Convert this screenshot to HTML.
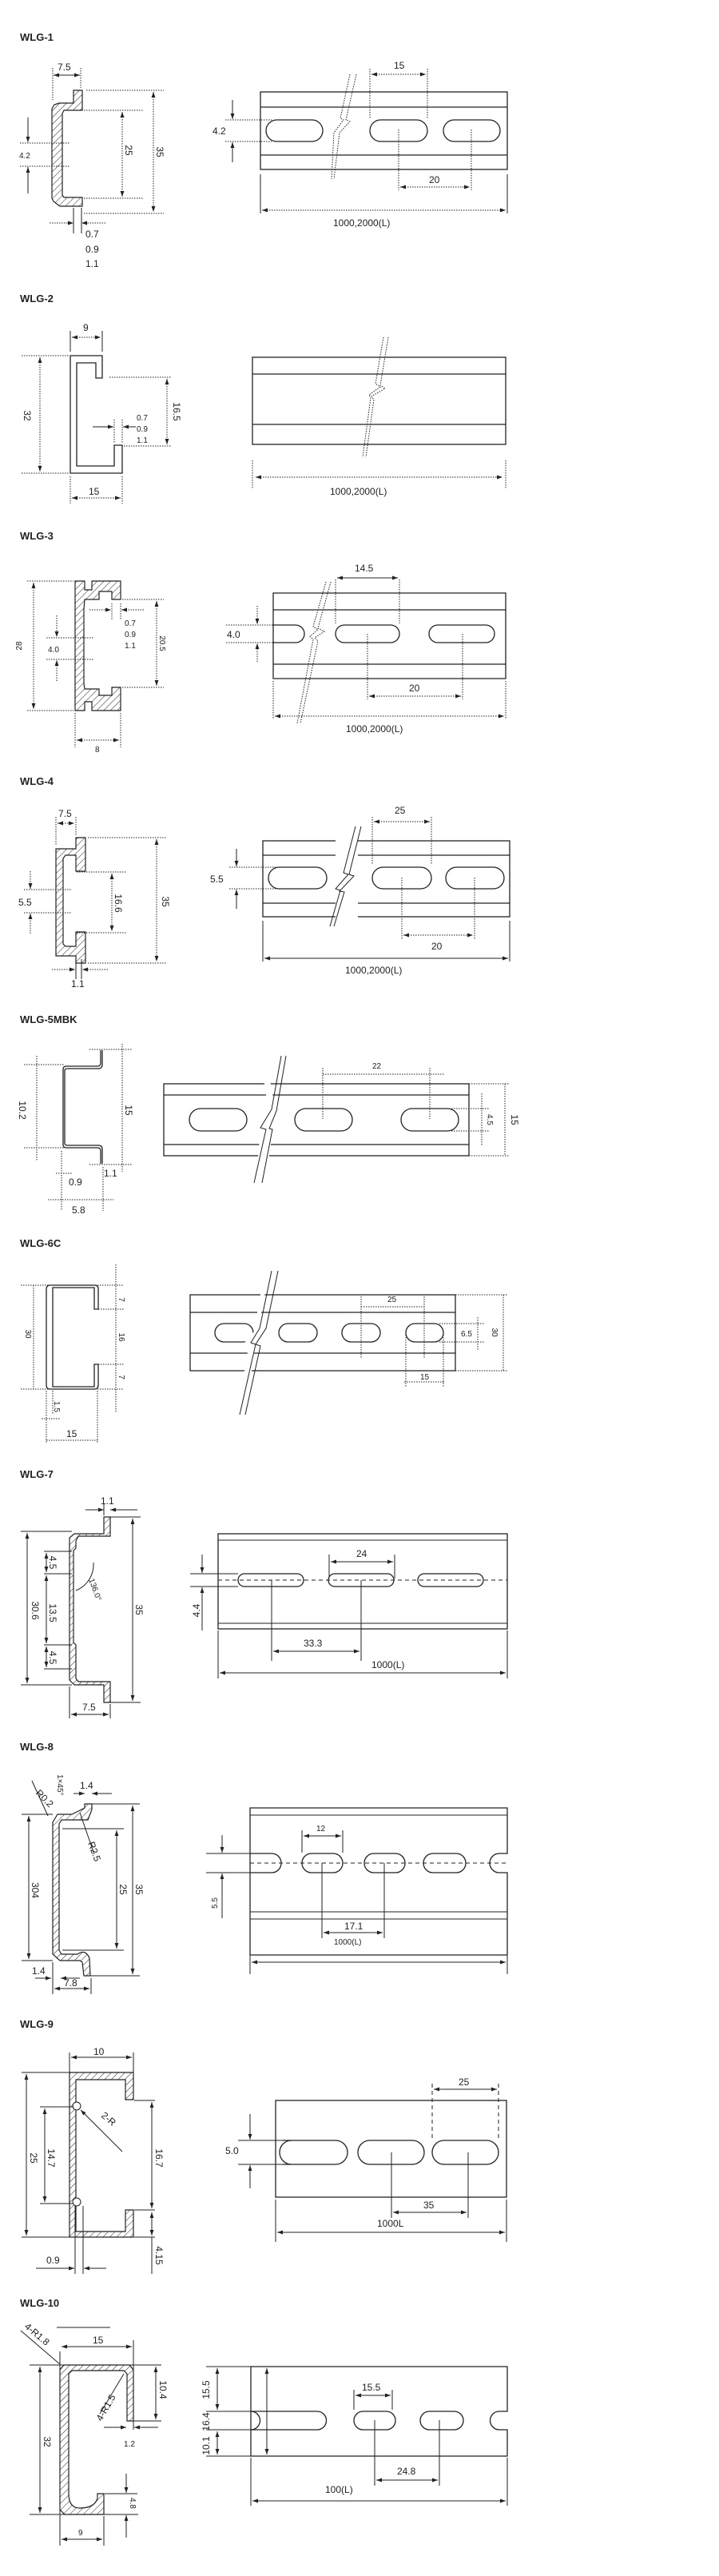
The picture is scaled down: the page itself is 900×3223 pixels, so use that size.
<!DOCTYPE html>
<html><head><meta charset="utf-8"><style>
html,body{margin:0;padding:0;background:#fff}
svg{display:block}
text{font-family:"Liberation Sans",sans-serif;fill:#222}
.h{font-weight:bold;font-size:13px}
.t{font-size:12px}
.s{font-size:10px}
.o{fill:none;stroke:#222;stroke-width:1.3}
.l{fill:none;stroke:#222;stroke-width:1}
.d{fill:none;stroke:#222;stroke-width:1;stroke-dasharray:1.5 1.5}
.c{fill:none;stroke:#222;stroke-width:1;stroke-dasharray:5 4}
.hat{fill:url(#hp);stroke:#222;stroke-width:1.2}
</style></head><body>
<svg width="900" height="3223" viewBox="0 0 900 3223" xmlns="http://www.w3.org/2000/svg">
<defs>
<marker id="a" viewBox="0 0 10 10" refX="10" refY="5" markerWidth="7" markerHeight="7" orient="auto-start-reverse"><path d="M0,1.5 L10,5 L0,8.5 z" fill="#222"/></marker>
<pattern id="hp" width="6" height="6" patternUnits="userSpaceOnUse" patternTransform="rotate(45)"><rect width="6" height="6" fill="#fff"/><line x1="0" y1="0" x2="0" y2="6" stroke="#222" stroke-width="1"/></pattern>
</defs>

<!-- ============ WLG-1 ============ -->
<text class="h" x="25" y="51">WLG-1</text>
<path class="hat" d="M92,113 L103,113 L103,138 L80,138 L78,142 L78,244 L80,247 L103,247 L103,258 L75,258 L67,252 L65,248 L65,136 L68,131 L74,129 L92,129 Z"/>
<line class="d" x1="66" y1="85" x2="66" y2="125"/><line class="d" x1="101" y1="85" x2="101" y2="110"/>
<line class="l" x1="67" y1="94" x2="100" y2="94" marker-start="url(#a)" marker-end="url(#a)"/>
<text class="t" x="72" y="88">7.5</text>
<line class="d" x1="108" y1="113" x2="205" y2="113"/><line class="d" x1="105" y1="138" x2="180" y2="138"/>
<line class="d" x1="105" y1="248" x2="180" y2="248"/><line class="d" x1="105" y1="267" x2="205" y2="267"/>
<line class="d" x1="153" y1="140" x2="153" y2="246" marker-start="url(#a)" marker-end="url(#a)"/>
<line class="d" x1="192" y1="115" x2="192" y2="265" marker-start="url(#a)" marker-end="url(#a)"/>
<text class="t" transform="translate(157,188) rotate(90)" text-anchor="middle">25</text>
<text class="t" transform="translate(196,190) rotate(90)" text-anchor="middle">35</text>
<line class="d" x1="25" y1="179" x2="88" y2="179"/><line class="d" x1="25" y1="208" x2="88" y2="208"/>
<line class="l" x1="35" y1="147" x2="35" y2="178" marker-end="url(#a)"/><line class="l" x1="35" y1="242" x2="35" y2="209" marker-end="url(#a)"/>
<text class="s" x="24" y="198">4.2</text>
<line class="l" x1="92" y1="260" x2="92" y2="292"/><line class="l" x1="102" y1="260" x2="102" y2="292"/>
<line class="d" x1="62" y1="279" x2="92" y2="279" marker-end="url(#a)"/><line class="d" x1="132" y1="279" x2="102" y2="279" marker-end="url(#a)"/>
<text class="t" x="107" y="297">0.7</text><text class="t" x="107" y="316">0.9</text><text class="t" x="107" y="334">1.1</text>
<rect class="o" x="326" y="115" width="309" height="97"/>
<line class="o" x1="326" y1="134" x2="635" y2="134"/><line class="o" x1="326" y1="194" x2="635" y2="194"/>
<rect class="o" x="333" y="150" width="71" height="27" rx="13.5"/>
<rect class="o" x="463" y="150" width="72" height="27" rx="13.5"/>
<rect class="o" x="555" y="150" width="71" height="27" rx="13.5"/>
<path class="d" d="M446,93 L433,150 L438,152 L425,166 L418,224"/><path class="d" d="M438,93 L426,148 L430,150 L418,166 L415,224"/>
<line class="d" x1="463" y1="86" x2="463" y2="148"/><line class="d" x1="535" y1="86" x2="535" y2="148"/>
<line class="d" x1="465" y1="93" x2="533" y2="93" marker-start="url(#a)" marker-end="url(#a)"/>
<text class="t" x="493" y="86">15</text>
<line class="d" x1="499" y1="162" x2="499" y2="238"/><line class="d" x1="590" y1="162" x2="590" y2="238"/>
<line class="d" x1="501" y1="234" x2="588" y2="234" marker-start="url(#a)" marker-end="url(#a)"/>
<text class="t" x="537" y="229">20</text>
<line class="l" x1="326" y1="218" x2="326" y2="267"/><line class="l" x1="635" y1="218" x2="635" y2="267"/>
<line class="d" x1="328" y1="263" x2="633" y2="263" marker-start="url(#a)" marker-end="url(#a)"/>
<text class="t" x="417" y="283">1000,2000(L)</text>
<line class="d" x1="282" y1="150" x2="340" y2="150"/><line class="d" x1="282" y1="177" x2="340" y2="177"/>
<line class="l" x1="291" y1="125" x2="291" y2="149" marker-end="url(#a)"/><line class="l" x1="291" y1="203" x2="291" y2="178" marker-end="url(#a)"/>
<text class="t" x="266" y="168">4.2</text>

<!-- ============ WLG-2 ============ -->
<text class="h" x="25" y="378">WLG-2</text>
<path class="o" d="M88,445 L128,445 L128,473 L120,473 L120,454 L96,454 L96,583 L143,583 L143,557 L153,557 L153,592 L88,592 Z"/>
<line class="l" x1="88" y1="414" x2="88" y2="440"/><line class="l" x1="128" y1="414" x2="128" y2="440"/>
<line class="d" x1="90" y1="422" x2="126" y2="422" marker-start="url(#a)" marker-end="url(#a)"/>
<text class="t" x="104" y="414">9</text>
<line class="d" x1="27" y1="445" x2="86" y2="445"/><line class="d" x1="27" y1="592" x2="86" y2="592"/>
<line class="d" x1="50" y1="447" x2="50" y2="590" marker-start="url(#a)" marker-end="url(#a)"/>
<text class="t" transform="translate(30,520) rotate(90)" text-anchor="middle">32</text>
<line class="d" x1="137" y1="472" x2="215" y2="472"/><line class="d" x1="155" y1="558" x2="215" y2="558"/>
<line class="d" x1="209" y1="474" x2="209" y2="556" marker-start="url(#a)" marker-end="url(#a)"/>
<text class="t" transform="translate(217,515) rotate(90)" text-anchor="middle">16.5</text>
<line class="d" x1="143" y1="525" x2="143" y2="555"/><line class="d" x1="153" y1="525" x2="153" y2="555"/>
<line class="l" x1="116" y1="534" x2="142" y2="534" marker-end="url(#a)"/><line class="l" x1="170" y1="534" x2="154" y2="534" marker-end="url(#a)"/>
<text class="s" x="171" y="526">0.7</text><text class="s" x="171" y="540">0.9</text><text class="s" x="171" y="554">1.1</text>
<line class="d" x1="88" y1="596" x2="88" y2="630"/><line class="d" x1="153" y1="596" x2="153" y2="630"/>
<line class="d" x1="90" y1="623" x2="151" y2="623" marker-start="url(#a)" marker-end="url(#a)"/>
<text class="t" x="111" y="619">15</text>
<rect class="o" x="316" y="447" width="317" height="109"/>
<line class="o" x1="316" y1="468" x2="633" y2="468"/><line class="o" x1="316" y1="531" x2="633" y2="531"/>
<path class="d" d="M486,422 L476,482 L482,486 L465,496 L468,500 L458,572"/><path class="d" d="M480,422 L470,480 L476,484 L462,494 L464,498 L454,572"/>
<line class="d" x1="316" y1="576" x2="316" y2="612"/><line class="d" x1="633" y1="576" x2="633" y2="612"/>
<line class="d" x1="320" y1="597" x2="629" y2="597" marker-start="url(#a)" marker-end="url(#a)"/>
<text class="t" x="413" y="619">1000,2000(L)</text>

<!-- ============ WLG-3 ============ -->
<text class="h" x="25" y="675">WLG-3</text>
<path class="hat" d="M94,727 L106,727 L106,738 L115,738 L115,727 L151,727 L151,750 L140,750 L140,740 L124,740 L124,750 L106,750 L105,762 L105,855 L106,862 L124,862 L124,870 L140,870 L140,860 L151,860 L151,889 L115,889 L115,878 L106,878 L106,889 L94,889 Z"/>
<line class="d" x1="34" y1="727" x2="92" y2="727"/><line class="d" x1="34" y1="889" x2="92" y2="889"/>
<line class="d" x1="42" y1="729" x2="42" y2="887" marker-start="url(#a)" marker-end="url(#a)"/>
<text class="s" transform="translate(27,808) rotate(-90)" text-anchor="middle">28</text>
<line class="d" x1="153" y1="750" x2="205" y2="750"/><line class="d" x1="153" y1="860" x2="205" y2="860"/>
<line class="d" x1="196" y1="752" x2="196" y2="858" marker-start="url(#a)" marker-end="url(#a)"/>
<text class="s" transform="translate(200,805) rotate(90)" text-anchor="middle">20.5</text>
<line class="d" x1="58" y1="798" x2="118" y2="798"/><line class="d" x1="58" y1="825" x2="118" y2="825"/>
<line class="d" x1="71" y1="770" x2="71" y2="797" marker-end="url(#a)"/><line class="d" x1="71" y1="852" x2="71" y2="826" marker-end="url(#a)"/>
<text class="s" x="60" y="816">4.0</text>
<line class="d" x1="140" y1="755" x2="140" y2="775"/><line class="d" x1="151" y1="755" x2="151" y2="775"/>
<line class="d" x1="112" y1="763" x2="139" y2="763" marker-end="url(#a)"/><line class="d" x1="180" y1="763" x2="152" y2="763" marker-end="url(#a)"/>
<text class="s" x="156" y="783">0.7</text><text class="s" x="156" y="797">0.9</text><text class="s" x="156" y="811">1.1</text>
<line class="d" x1="94" y1="892" x2="94" y2="935"/><line class="d" x1="151" y1="892" x2="151" y2="935"/>
<line class="d" x1="96" y1="926" x2="149" y2="926" marker-start="url(#a)" marker-end="url(#a)"/>
<text class="s" x="119" y="941">8</text>
<path class="o" d="M342,742 L633,742 L633,849 L342,849 Z"/>
<line class="o" x1="342" y1="763" x2="633" y2="763"/><line class="o" x1="342" y1="831" x2="633" y2="831"/>
<path class="o" d="M342,782 L370,782 A11,11 0 0 1 370,804 L342,804"/>
<rect class="o" x="420" y="782" width="80" height="22" rx="11"/>
<rect class="o" x="537" y="782" width="82" height="22" rx="11"/>
<path class="d" d="M414,728 L398,786 L406,790 L394,798 L398,802 L376,905"/><path class="d" d="M408,728 L392,784 L398,788 L388,796 L392,800 L372,905"/>
<line class="d" x1="420" y1="725" x2="420" y2="780"/><line class="d" x1="500" y1="725" x2="500" y2="780"/>
<line class="l" x1="422" y1="723" x2="498" y2="723" marker-start="url(#a)" marker-end="url(#a)"/>
<text class="t" x="444" y="715">14.5</text>
<line class="d" x1="460" y1="793" x2="460" y2="875"/><line class="d" x1="579" y1="793" x2="579" y2="875"/>
<line class="d" x1="462" y1="871" x2="577" y2="871" marker-start="url(#a)" marker-end="url(#a)"/>
<text class="t" x="512" y="865">20</text>
<line class="d" x1="342" y1="852" x2="342" y2="900"/><line class="d" x1="633" y1="852" x2="633" y2="900"/>
<line class="d" x1="344" y1="896" x2="631" y2="896" marker-start="url(#a)" marker-end="url(#a)"/>
<text class="t" x="433" y="916">1000,2000(L)</text>
<line class="d" x1="283" y1="782" x2="345" y2="782"/><line class="d" x1="283" y1="804" x2="345" y2="804"/>
<line class="d" x1="322" y1="758" x2="322" y2="781" marker-end="url(#a)"/><line class="d" x1="322" y1="828" x2="322" y2="805" marker-end="url(#a)"/>
<text class="t" x="284" y="798">4.0</text>

<!-- ============ WLG-4 ============ -->
<text class="h" x="25" y="982">WLG-4</text>
<path class="hat" d="M95,1048 L107,1048 L107,1090 L95,1090 L95,1070 L82,1070 L79,1074 L79,1181 L82,1184 L95,1184 L95,1166 L107,1166 L107,1205 L95,1205 L95,1196 L70,1196 L70,1062 L95,1062 Z"/>
<line class="d" x1="70" y1="1022" x2="70" y2="1058"/><line class="d" x1="95" y1="1022" x2="95" y2="1045"/>
<line class="d" x1="72" y1="1030" x2="93" y2="1030" marker-start="url(#a)" marker-end="url(#a)"/>
<text class="t" x="73" y="1022">7.5</text>
<line class="d" x1="110" y1="1048" x2="208" y2="1048"/><line class="d" x1="110" y1="1205" x2="208" y2="1205"/>
<line class="d" x1="96" y1="1091" x2="158" y2="1091"/><line class="d" x1="96" y1="1167" x2="158" y2="1167"/>
<line class="d" x1="196" y1="1050" x2="196" y2="1203" marker-start="url(#a)" marker-end="url(#a)"/>
<line class="d" x1="140" y1="1093" x2="140" y2="1165" marker-start="url(#a)" marker-end="url(#a)"/>
<text class="t" transform="translate(144,1130) rotate(90)" text-anchor="middle">16.6</text>
<text class="t" transform="translate(203,1128) rotate(90)" text-anchor="middle">35</text>
<line class="d" x1="30" y1="1113" x2="90" y2="1113"/><line class="d" x1="30" y1="1142" x2="90" y2="1142"/>
<line class="d" x1="38" y1="1090" x2="38" y2="1112" marker-end="url(#a)"/><line class="d" x1="38" y1="1168" x2="38" y2="1143" marker-end="url(#a)"/>
<text class="t" x="23" y="1133">5.5</text>
<line class="l" x1="95" y1="1200" x2="95" y2="1225"/><line class="l" x1="102" y1="1200" x2="102" y2="1225"/>
<line class="d" x1="65" y1="1213" x2="94" y2="1213" marker-end="url(#a)"/><line class="d" x1="135" y1="1213" x2="103" y2="1213" marker-end="url(#a)"/>
<text class="t" x="89" y="1235">1.1</text>
<rect class="o" x="329" y="1052" width="309" height="95"/>
<line class="o" x1="329" y1="1070" x2="638" y2="1070"/><line class="o" x1="329" y1="1130" x2="638" y2="1130"/>
<rect class="o" x="336" y="1085" width="73" height="27" rx="13.5"/>
<rect class="o" x="466" y="1085" width="74" height="27" rx="13.5"/>
<rect class="o" x="558" y="1085" width="73" height="27" rx="13.5"/>
<rect x="420" y="1030" width="28" height="130" fill="#fff"/>
<path class="l" d="M452,1034 L437,1094 L443,1096 L425,1115 L431,1116 L418,1159"/><path class="l" d="M445,1034 L430,1092 L436,1094 L420,1112 L426,1114 L413,1159"/>
<line class="d" x1="466" y1="1022" x2="466" y2="1082"/><line class="d" x1="540" y1="1022" x2="540" y2="1082"/>
<line class="d" x1="468" y1="1028" x2="538" y2="1028" marker-start="url(#a)" marker-end="url(#a)"/>
<text class="t" x="494" y="1018">25</text>
<line class="d" x1="503" y1="1098" x2="503" y2="1175"/><line class="d" x1="594" y1="1098" x2="594" y2="1175"/>
<line class="d" x1="505" y1="1170" x2="592" y2="1170" marker-start="url(#a)" marker-end="url(#a)"/>
<text class="t" x="540" y="1188">20</text>
<line class="l" x1="329" y1="1152" x2="329" y2="1203"/><line class="l" x1="638" y1="1152" x2="638" y2="1203"/>
<line class="l" x1="331" y1="1199" x2="636" y2="1199" marker-start="url(#a)" marker-end="url(#a)"/>
<text class="t" x="432" y="1218">1000,2000(L)</text>
<line class="d" x1="287" y1="1085" x2="345" y2="1085"/><line class="d" x1="287" y1="1112" x2="345" y2="1112"/>
<line class="l" x1="296" y1="1062" x2="296" y2="1084" marker-end="url(#a)"/><line class="l" x1="296" y1="1137" x2="296" y2="1113" marker-end="url(#a)"/>
<text class="t" x="263" y="1104">5.5</text>

<!-- ============ WLG-5MBK ============ -->
<text class="h" x="25" y="1280">WLG-5MBK</text>
<path class="o" d="M126,1314 L126,1330 Q126,1334 122,1334 L83,1334 Q79,1334 79,1338 L79,1432 Q79,1436 83,1436 L122,1436 Q126,1436 126,1440 L126,1456"/>
<path class="o" d="M128,1314 L128,1332 Q128,1337 123,1337 L84,1337 Q81,1337 81,1340 L81,1430 Q81,1433 84,1433 L123,1433 Q128,1433 128,1438 L128,1456"/>
<line class="d" x1="112" y1="1313" x2="166" y2="1313"/><line class="d" x1="30" y1="1332" x2="80" y2="1332"/>
<line class="d" x1="30" y1="1436" x2="80" y2="1436"/><line class="d" x1="112" y1="1457" x2="166" y2="1457"/>
<line class="d" x1="46" y1="1321" x2="46" y2="1452"/><line class="d" x1="153" y1="1306" x2="153" y2="1466"/>
<text class="t" transform="translate(24,1389) rotate(90)" text-anchor="middle">10.2</text>
<text class="t" transform="translate(157,1389) rotate(90)" text-anchor="middle">15</text>
<line class="d" x1="77" y1="1440" x2="77" y2="1515"/><line class="d" x1="129" y1="1460" x2="129" y2="1515"/>
<line class="d" x1="70" y1="1468" x2="90" y2="1468"/><line class="d" x1="60" y1="1501" x2="142" y2="1501"/>
<text class="t" x="86" y="1483">0.9</text><text class="t" x="130" y="1472">1.1</text><text class="t" x="90" y="1518">5.8</text>
<rect class="o" x="205" y="1356" width="382" height="90"/>
<line class="o" x1="205" y1="1370" x2="587" y2="1370"/><line class="o" x1="205" y1="1432" x2="587" y2="1432"/>
<rect class="o" x="237" y="1387" width="72" height="28" rx="14"/>
<rect class="o" x="369" y="1387" width="72" height="28" rx="14"/>
<rect class="o" x="502" y="1387" width="72" height="28" rx="14"/>
<path d="M335,1336 L345,1390 L330,1411 L342,1411 L332,1480 L320,1480 L326,1414 L318,1412 L336,1390 L328,1336 Z" fill="#fff" stroke="none"/>
<path class="l" d="M358,1321 L346,1390 L337,1412 L341,1413 L328,1480"/><path class="l" d="M352,1321 L340,1388 L326,1411 L333,1413 L318,1480"/>
<line class="d" x1="404" y1="1336" x2="404" y2="1400"/><line class="d" x1="538" y1="1336" x2="538" y2="1400"/>
<line class="d" x1="404" y1="1344" x2="556" y2="1344"/>
<text class="s" x="466" y="1337">22</text>
<line class="d" x1="565" y1="1387" x2="612" y2="1387"/><line class="d" x1="565" y1="1415" x2="612" y2="1415"/>
<line class="d" x1="603" y1="1368" x2="603" y2="1434"/>
<text class="s" transform="translate(610,1401) rotate(90)" text-anchor="middle">4.5</text>
<line class="d" x1="587" y1="1356" x2="638" y2="1356"/><line class="d" x1="587" y1="1446" x2="638" y2="1446"/>
<line class="d" x1="632" y1="1356" x2="632" y2="1446"/>
<text class="t" transform="translate(640,1401) rotate(90)" text-anchor="middle">15</text>

<!-- ============ WLG-6C ============ -->
<text class="h" x="25" y="1560">WLG-6C</text>
<path class="o" d="M123,1638 L123,1612 Q123,1608 118,1608 L63,1608 Q58,1608 58,1613 L58,1733 Q58,1738 63,1738 L118,1738 Q123,1738 123,1733 L123,1707 L118,1707 L118,1735 L66,1735 L66,1611 L118,1611 L118,1638 Z"/>
<line class="d" x1="26" y1="1608" x2="155" y2="1608"/><line class="d" x1="26" y1="1738" x2="155" y2="1738"/>
<line class="d" x1="120" y1="1638" x2="155" y2="1638"/><line class="d" x1="120" y1="1707" x2="155" y2="1707"/>
<line class="d" x1="42" y1="1608" x2="42" y2="1738"/><line class="d" x1="145" y1="1582" x2="145" y2="1768"/>
<text class="s" transform="translate(32,1669) rotate(90)" text-anchor="middle">30</text>
<text class="s" transform="translate(149,1626) rotate(90)" text-anchor="middle">7</text>
<text class="s" transform="translate(149,1673) rotate(90)" text-anchor="middle">16</text>
<text class="s" transform="translate(149,1723) rotate(90)" text-anchor="middle">7</text>
<line class="d" x1="58" y1="1740" x2="58" y2="1805"/><line class="d" x1="66" y1="1740" x2="66" y2="1770"/>
<line class="d" x1="122" y1="1740" x2="122" y2="1805"/>
<line class="d" x1="52" y1="1775" x2="75" y2="1775"/>
<text class="s" transform="translate(68,1760) rotate(90)" text-anchor="middle">1.5</text>
<text class="t" x="83" y="1798">15</text>
<line class="d" x1="58" y1="1802" x2="122" y2="1802"/>
<rect class="o" x="238" y="1620" width="332" height="95"/>
<line class="o" x1="238" y1="1642" x2="570" y2="1642"/><line class="o" x1="238" y1="1693" x2="570" y2="1693"/>
<rect class="o" x="269" y="1656" width="48" height="23" rx="11.5"/>
<rect class="o" x="349" y="1656" width="48" height="23" rx="11.5"/>
<rect class="o" x="428" y="1656" width="48" height="23" rx="11.5"/>
<rect class="o" x="508" y="1656" width="47" height="23" rx="11.5"/>
<path d="M336,1596 L322,1668 L316,1680 L320,1680 L310,1750 L300,1750 L312,1680 L306,1680 L318,1666 L330,1596 Z" fill="#fff"/>
<path class="l" d="M348,1590 L333,1662 L320,1682 L326,1684 L307,1770"/><path class="l" d="M340,1590 L325,1662 L314,1680 L320,1682 L300,1770"/>
<line class="d" x1="452" y1="1622" x2="452" y2="1700"/><line class="d" x1="531" y1="1622" x2="531" y2="1700"/>
<line class="d" x1="452" y1="1635" x2="531" y2="1635"/>
<text class="s" x="485" y="1629">25</text>
<line class="d" x1="508" y1="1670" x2="508" y2="1735"/><line class="d" x1="555" y1="1670" x2="555" y2="1735"/>
<line class="d" x1="506" y1="1729" x2="557" y2="1729"/>
<text class="s" x="526" y="1726">15</text>
<line class="d" x1="550" y1="1656" x2="606" y2="1656"/><line class="d" x1="550" y1="1679" x2="606" y2="1679"/>
<line class="d" x1="598" y1="1648" x2="598" y2="1690"/>
<text class="s" x="577" y="1672">6.5</text>
<line class="d" x1="570" y1="1620" x2="636" y2="1620"/><line class="d" x1="570" y1="1715" x2="636" y2="1715"/>
<line class="d" x1="630" y1="1620" x2="630" y2="1715"/>
<text class="s" transform="translate(616,1667) rotate(90)" text-anchor="middle">30</text>

<!-- ============ WLG-7 ============ -->
<text class="h" x="25" y="1849">WLG-7</text>
<path class="hat" d="M130,1898 L138,1898 L138,1922 L98,1922 L95,1928 L95,1937 L92,1940 L92,2055 L95,2058 L95,2100 L98,2104 L138,2104 L138,2130 L130,2130 L130,2108 L93,2108 L87,2102 L87,1924 L93,1919 L130,1919 Z"/>
<path class="l" d="M95,1990 A35,35 0 0 0 117,1955"/>
<line class="l" x1="107" y1="1889" x2="130" y2="1889" marker-end="url(#a)"/><line class="l" x1="172" y1="1889" x2="138" y2="1889" marker-end="url(#a)"/>
<line class="l" x1="130" y1="1882" x2="130" y2="1896"/>
<text class="t" x="126" y="1882">1.1</text>
<line class="l" x1="138" y1="1898" x2="176" y2="1898"/><line class="l" x1="138" y1="2130" x2="176" y2="2130"/>
<line class="l" x1="166" y1="1900" x2="166" y2="2128" marker-start="url(#a)" marker-end="url(#a)"/>
<text class="t" transform="translate(170,2014) rotate(90)" text-anchor="middle">35</text>
<line class="l" x1="26" y1="1916" x2="90" y2="1916"/><line class="l" x1="26" y1="2108" x2="90" y2="2108"/>
<line class="l" x1="34" y1="1918" x2="34" y2="2106" marker-start="url(#a)" marker-end="url(#a)"/>
<text class="t" transform="translate(40,2015) rotate(90)" text-anchor="middle">30.6</text>
<line class="l" x1="55" y1="1941" x2="90" y2="1941"/><line class="l" x1="55" y1="1969" x2="90" y2="1969"/>
<line class="l" x1="55" y1="2058" x2="90" y2="2058"/><line class="l" x1="55" y1="2088" x2="90" y2="2088"/>
<line class="l" x1="58" y1="1943" x2="58" y2="1967" marker-start="url(#a)" marker-end="url(#a)"/>
<line class="l" x1="58" y1="1971" x2="58" y2="2056" marker-start="url(#a)" marker-end="url(#a)"/>
<line class="l" x1="58" y1="2060" x2="58" y2="2086" marker-start="url(#a)" marker-end="url(#a)"/>
<text class="t" transform="translate(62,1955) rotate(90)" text-anchor="middle">4.5</text>
<text class="t" transform="translate(62,2018) rotate(90)" text-anchor="middle">13.5</text>
<text class="t" transform="translate(62,2074) rotate(90)" text-anchor="middle">4.5</text>
<text class="s" transform="translate(116,1990) rotate(70)" text-anchor="middle">136.0°</text>
<line class="l" x1="87" y1="2110" x2="87" y2="2150"/><line class="l" x1="138" y1="2132" x2="138" y2="2150"/>
<line class="l" x1="89" y1="2145" x2="136" y2="2145" marker-start="url(#a)" marker-end="url(#a)"/>
<text class="t" x="103" y="2140">7.5</text>
<rect class="o" x="273" y="1919" width="362" height="119"/>
<line class="l" x1="273" y1="1927" x2="635" y2="1927"/><line class="l" x1="273" y1="2031" x2="635" y2="2031"/>
<rect class="o" x="298" y="1969" width="82" height="16" rx="8"/>
<rect class="o" x="411" y="1969" width="82" height="16" rx="8"/>
<rect class="o" x="523" y="1969" width="82" height="16" rx="8"/>
<line class="c" x1="273" y1="1977" x2="635" y2="1977"/>
<line class="l" x1="238" y1="1969" x2="298" y2="1969"/><line class="l" x1="238" y1="1985" x2="298" y2="1985"/>
<line class="l" x1="253" y1="1945" x2="253" y2="1968" marker-end="url(#a)"/><line class="l" x1="253" y1="2040" x2="253" y2="1986" marker-end="url(#a)"/>
<text class="t" transform="translate(250,2015) rotate(-90)" text-anchor="middle">4.4</text>
<line class="l" x1="412" y1="1945" x2="412" y2="1975"/><line class="l" x1="494" y1="1945" x2="494" y2="1975"/>
<line class="l" x1="414" y1="1954" x2="492" y2="1954" marker-start="url(#a)" marker-end="url(#a)"/>
<text class="t" x="446" y="1948">24</text>
<line class="l" x1="340" y1="1977" x2="340" y2="2078"/><line class="l" x1="452" y1="1977" x2="452" y2="2078"/>
<line class="l" x1="342" y1="2066" x2="450" y2="2066" marker-start="url(#a)" marker-end="url(#a)"/>
<text class="t" x="380" y="2060">33.3</text>
<line class="l" x1="273" y1="2040" x2="273" y2="2100"/><line class="l" x1="635" y1="2040" x2="635" y2="2100"/>
<line class="l" x1="275" y1="2093" x2="633" y2="2093" marker-start="url(#a)" marker-end="url(#a)"/>
<text class="t" x="465" y="2087">1000(L)</text>

<!-- ============ WLG-8 ============ -->
<text class="h" x="25" y="2190">WLG-8</text>
<path class="hat" d="M106,2257 L115,2257 L115,2264 L110,2277 L77,2277 L74,2282 L74,2440 L77,2445 L97,2445 Q107,2438 112,2450 L113,2472 L105,2472 L103,2455 L100,2453 L75,2453 L66,2445 L66,2280 L72,2270 L90,2270 L100,2265 L106,2262 Z"/>
<line class="l" x1="115" y1="2257" x2="175" y2="2257"/><line class="l" x1="112" y1="2472" x2="175" y2="2472"/>
<line class="l" x1="78" y1="2288" x2="155" y2="2288"/><line class="l" x1="78" y1="2440" x2="155" y2="2440"/>
<line class="l" x1="27" y1="2270" x2="66" y2="2270"/><line class="l" x1="27" y1="2453" x2="66" y2="2453"/>
<line class="l" x1="166" y1="2259" x2="166" y2="2470" marker-start="url(#a)" marker-end="url(#a)"/>
<line class="l" x1="146" y1="2290" x2="146" y2="2438" marker-start="url(#a)" marker-end="url(#a)"/>
<line class="l" x1="36" y1="2272" x2="36" y2="2451" marker-start="url(#a)" marker-end="url(#a)"/>
<text class="t" transform="translate(170,2364) rotate(90)" text-anchor="middle">35</text>
<text class="t" transform="translate(150,2364) rotate(90)" text-anchor="middle">25</text>
<text class="t" transform="translate(40,2365) rotate(90)" text-anchor="middle">304</text>
<line class="l" x1="92" y1="2244" x2="106" y2="2244" marker-end="url(#a)"/><line class="l" x1="140" y1="2244" x2="115" y2="2244" marker-end="url(#a)"/>
<text class="t" x="100" y="2238">1.4</text>
<text class="s" transform="translate(72,2220) rotate(90)">1×45°</text>
<text class="t" transform="translate(44,2244) rotate(45)">R0.2</text>
<line class="l" x1="40" y1="2228" x2="60" y2="2272"/>
<line class="l" x1="100" y1="2268" x2="118" y2="2320"/>
<text class="t" transform="translate(110,2306) rotate(70)">R2.5</text>
<line class="l" x1="44" y1="2475" x2="64" y2="2475" marker-end="url(#a)"/><line class="l" x1="100" y1="2475" x2="76" y2="2475" marker-end="url(#a)"/>
<text class="t" x="40" y="2470">1.4</text>
<line class="l" x1="66" y1="2455" x2="66" y2="2495"/><line class="l" x1="114" y1="2475" x2="114" y2="2495"/>
<line class="l" x1="68" y1="2488" x2="112" y2="2488" marker-start="url(#a)" marker-end="url(#a)"/>
<text class="t" x="80" y="2485">7.8</text>
<path class="o" d="M313,2262 L635,2262 L635,2319 L625,2319 A12,12 0 0 0 625,2343 L635,2343 L635,2446 L313,2446 Z"/>
<line class="l" x1="313" y1="2271" x2="635" y2="2271"/><line class="l" x1="313" y1="2392" x2="635" y2="2392"/><line class="l" x1="313" y1="2401" x2="635" y2="2401"/>
<path class="o" d="M313,2319 L340,2319 A12,12 0 0 1 340,2343 L313,2343"/>
<rect class="o" x="378" y="2319" width="51" height="24" rx="12"/>
<rect class="o" x="456" y="2319" width="51" height="24" rx="12"/>
<rect class="o" x="530" y="2319" width="53" height="24" rx="12"/>
<line class="c" x1="313" y1="2331" x2="635" y2="2331"/>
<line class="l" x1="258" y1="2319" x2="320" y2="2319"/><line class="l" x1="258" y1="2343" x2="320" y2="2343"/>
<line class="l" x1="278" y1="2296" x2="278" y2="2318" marker-end="url(#a)"/><line class="l" x1="278" y1="2400" x2="278" y2="2344" marker-end="url(#a)"/>
<text class="s" transform="translate(272,2381) rotate(-90)" text-anchor="middle">5.5</text>
<line class="l" x1="378" y1="2290" x2="378" y2="2318"/><line class="l" x1="429" y1="2290" x2="429" y2="2318"/>
<line class="l" x1="380" y1="2297" x2="427" y2="2297" marker-start="url(#a)" marker-end="url(#a)"/>
<text class="s" x="396" y="2291">12</text>
<line class="l" x1="403" y1="2331" x2="403" y2="2425"/><line class="l" x1="481" y1="2331" x2="481" y2="2425"/>
<line class="l" x1="405" y1="2418" x2="479" y2="2418" marker-start="url(#a)" marker-end="url(#a)"/>
<text class="t" x="431" y="2414">17.1</text>
<line class="l" x1="313" y1="2446" x2="313" y2="2470"/><line class="l" x1="635" y1="2446" x2="635" y2="2470"/>
<line class="l" x1="315" y1="2455" x2="633" y2="2455" marker-start="url(#a)" marker-end="url(#a)"/>
<text class="s" x="418" y="2433">1000(L)</text>

<!-- ============ WLG-9 ============ -->
<text class="h" x="25" y="2537">WLG-9</text>
<path class="hat" d="M87,2593 L167,2593 L167,2627 L157,2627 L157,2602 L95,2602 L95,2792 L157,2792 L157,2765 L167,2765 L167,2799 L87,2799 Z"/>
<circle cx="96" cy="2635" r="5" fill="#fff" stroke="#222"/><circle cx="96" cy="2755" r="5" fill="#fff" stroke="#222"/>
<line class="l" x1="87" y1="2568" x2="87" y2="2593"/><line class="l" x1="167" y1="2568" x2="167" y2="2593"/>
<line class="l" x1="89" y1="2574" x2="165" y2="2574" marker-start="url(#a)" marker-end="url(#a)"/>
<text class="t" x="117" y="2571">10</text>
<line class="l" x1="27" y1="2593" x2="87" y2="2593"/><line class="l" x1="27" y1="2799" x2="87" y2="2799"/>
<line class="l" x1="33" y1="2595" x2="33" y2="2797" marker-start="url(#a)" marker-end="url(#a)"/>
<text class="t" transform="translate(38,2700) rotate(90)" text-anchor="middle">25</text>
<line class="l" x1="50" y1="2636" x2="92" y2="2636"/><line class="l" x1="50" y1="2757" x2="92" y2="2757"/>
<line class="l" x1="56" y1="2638" x2="56" y2="2755" marker-start="url(#a)" marker-end="url(#a)"/>
<text class="t" transform="translate(60,2700) rotate(90)" text-anchor="middle">14.7</text>
<line class="l" x1="168" y1="2628" x2="194" y2="2628"/><line class="l" x1="168" y1="2765" x2="194" y2="2765"/>
<line class="l" x1="190" y1="2630" x2="190" y2="2763" marker-start="url(#a)" marker-end="url(#a)"/>
<text class="t" transform="translate(195,2700) rotate(90)" text-anchor="middle">16.7</text>
<line class="l" x1="168" y1="2799" x2="194" y2="2799"/>
<line class="l" x1="190" y1="2768" x2="190" y2="2797" marker-start="url(#a)" marker-end="url(#a)"/>
<line class="l" x1="190" y1="2799" x2="190" y2="2845"/>
<text class="t" transform="translate(195,2822) rotate(90)" text-anchor="middle">4.15</text>
<line class="l" x1="153" y1="2692" x2="101" y2="2640" marker-end="url(#a)"/>
<text class="t" transform="translate(126,2648) rotate(40)">2-R</text>
<line class="l" x1="94" y1="2760" x2="94" y2="2845"/><line class="l" x1="104" y1="2760" x2="104" y2="2845"/>
<line class="l" x1="45" y1="2838" x2="93" y2="2838" marker-end="url(#a)"/><line class="l" x1="133" y1="2838" x2="105" y2="2838" marker-end="url(#a)"/>
<text class="t" x="58" y="2832">0.9</text>
<rect class="o" x="345" y="2628" width="289" height="121"/>
<path class="o" d="M354,2678 L420,2678 A15,15 0 0 1 420,2708 L354,2708"/>
<path class="o" d="M365,2678 A15,15 0 0 0 365,2708"/>
<rect class="o" x="448" y="2678" width="83" height="30" rx="15"/>
<rect class="o" x="541" y="2678" width="83" height="30" rx="15"/>
<line class="l" x1="298" y1="2678" x2="360" y2="2678"/><line class="l" x1="298" y1="2708" x2="360" y2="2708"/>
<line class="l" x1="313" y1="2645" x2="313" y2="2677" marker-end="url(#a)"/><line class="l" x1="313" y1="2738" x2="313" y2="2709" marker-end="url(#a)"/>
<text class="t" x="282" y="2695">5.0</text>
<line class="c" x1="541" y1="2607" x2="541" y2="2676"/><line class="c" x1="624" y1="2607" x2="624" y2="2676"/>
<line class="l" x1="543" y1="2614" x2="622" y2="2614" marker-start="url(#a)" marker-end="url(#a)"/>
<text class="t" x="574" y="2609">25</text>
<line class="l" x1="490" y1="2693" x2="490" y2="2775"/><line class="l" x1="586" y1="2693" x2="586" y2="2775"/>
<line class="l" x1="492" y1="2768" x2="584" y2="2768" marker-start="url(#a)" marker-end="url(#a)"/>
<text class="t" x="530" y="2763">35</text>
<line class="l" x1="345" y1="2752" x2="345" y2="2805"/><line class="l" x1="634" y1="2752" x2="634" y2="2805"/>
<line class="l" x1="347" y1="2793" x2="632" y2="2793" marker-start="url(#a)" marker-end="url(#a)"/>
<text class="t" x="472" y="2786">1000L</text>

<!-- ============ WLG-10 ============ -->
<text class="h" x="25" y="2886">WLG-10</text>
<line class="l" x1="71" y1="2912" x2="138" y2="2912"/>
<path class="hat" d="M80,2959 L162,2959 L167,2965 L167,3029 L159,3029 L159,2970 L155,2966 L90,2966 L86,2970 L86,3120 Q86,3138 100,3138 Q118,3138 122,3126 L122,3120 L130,3120 L130,3146 L81,3146 L75,3140 L75,2965 Z"/>
<line class="l" x1="75" y1="2942" x2="75" y2="3185"/><line class="l" x1="167" y1="2928" x2="167" y2="3040"/>
<line class="l" x1="77" y1="2936" x2="165" y2="2936" marker-start="url(#a)" marker-end="url(#a)"/>
<text class="t" x="116" y="2932">15</text>
<line class="l" x1="26" y1="2916" x2="75" y2="2958"/>
<text class="t" transform="translate(30,2912) rotate(40)">4-R1.8</text>
<line class="l" x1="37" y1="2959" x2="202" y2="2959"/><line class="l" x1="37" y1="3146" x2="173" y2="3146"/>
<line class="l" x1="50" y1="2961" x2="50" y2="3144" marker-start="url(#a)" marker-end="url(#a)"/>
<text class="t" transform="translate(55,3055) rotate(90)" text-anchor="middle">32</text>
<line class="l" x1="160" y1="3029" x2="202" y2="3029"/>
<line class="l" x1="195" y1="2961" x2="195" y2="3027" marker-start="url(#a)" marker-end="url(#a)"/>
<text class="t" transform="translate(200,2990) rotate(90)" text-anchor="middle">10.4</text>
<line class="l" x1="155" y1="2970" x2="125" y2="3020"/>
<text class="t" transform="translate(127,3030) rotate(-60)">4-R1.5</text>
<line class="l" x1="130" y1="3037" x2="158" y2="3037" marker-end="url(#a)"/><line class="l" x1="198" y1="3037" x2="168" y2="3037" marker-end="url(#a)"/>
<text class="s" x="155" y="3061">1.2</text>
<line class="l" x1="131" y1="3120" x2="172" y2="3120"/>
<line class="l" x1="158" y1="3095" x2="158" y2="3119" marker-end="url(#a)"/><line class="l" x1="158" y1="3175" x2="158" y2="3147" marker-end="url(#a)"/>
<text class="s" transform="translate(163,3132) rotate(90)" text-anchor="middle">4.8</text>
<line class="l" x1="130" y1="3148" x2="130" y2="3185"/>
<line class="l" x1="77" y1="3177" x2="128" y2="3177" marker-start="url(#a)" marker-end="url(#a)"/>
<text class="s" x="98" y="3172">9</text>
<path class="o" d="M314,2961 L635,2961 L635,3017 L625,3017 A11.5,11.5 0 0 0 625,3040 L635,3040 L635,3073 L314,3073 Z"/>
<path class="o" d="M314,3017 L397,3017 A11.5,11.5 0 0 1 397,3040 L314,3040"/>
<path class="o" d="M314,3017 A11.5,11.5 0 0 1 314,3040"/>
<rect class="o" x="443" y="3017" width="52" height="23" rx="11.5"/>
<rect class="o" x="526" y="3017" width="54" height="23" rx="11.5"/>
<line class="l" x1="258" y1="2961" x2="314" y2="2961"/><line class="l" x1="258" y1="3073" x2="314" y2="3073"/>
<line class="l" x1="258" y1="3017" x2="320" y2="3017"/><line class="l" x1="258" y1="3040" x2="320" y2="3040"/>
<line class="l" x1="272" y1="2963" x2="272" y2="3015" marker-start="url(#a)" marker-end="url(#a)"/>
<line class="l" x1="272" y1="3042" x2="272" y2="3071" marker-start="url(#a)" marker-end="url(#a)"/>
<line class="l" x1="334" y1="2963" x2="334" y2="3071" marker-start="url(#a)" marker-end="url(#a)"/>
<text class="t" transform="translate(262,2990) rotate(-90)" text-anchor="middle">15.5</text>
<text class="t" transform="translate(262,3030) rotate(-90)" text-anchor="middle">16.4</text>
<text class="t" transform="translate(262,3060) rotate(-90)" text-anchor="middle">10.1</text>
<line class="l" x1="443" y1="2990" x2="443" y2="3015"/><line class="l" x1="491" y1="2990" x2="491" y2="3015"/>
<line class="l" x1="445" y1="2997" x2="489" y2="2997" marker-start="url(#a)" marker-end="url(#a)"/>
<text class="t" x="453" y="2991">15.5</text>
<line class="l" x1="469" y1="3028" x2="469" y2="3110"/><line class="l" x1="550" y1="3028" x2="550" y2="3110"/>
<line class="l" x1="471" y1="3103" x2="548" y2="3103" marker-start="url(#a)" marker-end="url(#a)"/>
<text class="t" x="497" y="3096">24.8</text>
<line class="l" x1="314" y1="3075" x2="314" y2="3135"/><line class="l" x1="635" y1="3075" x2="635" y2="3135"/>
<line class="l" x1="316" y1="3129" x2="633" y2="3129" marker-start="url(#a)" marker-end="url(#a)"/>
<text class="t" x="407" y="3119">100(L)</text>
</svg>
</body></html>
